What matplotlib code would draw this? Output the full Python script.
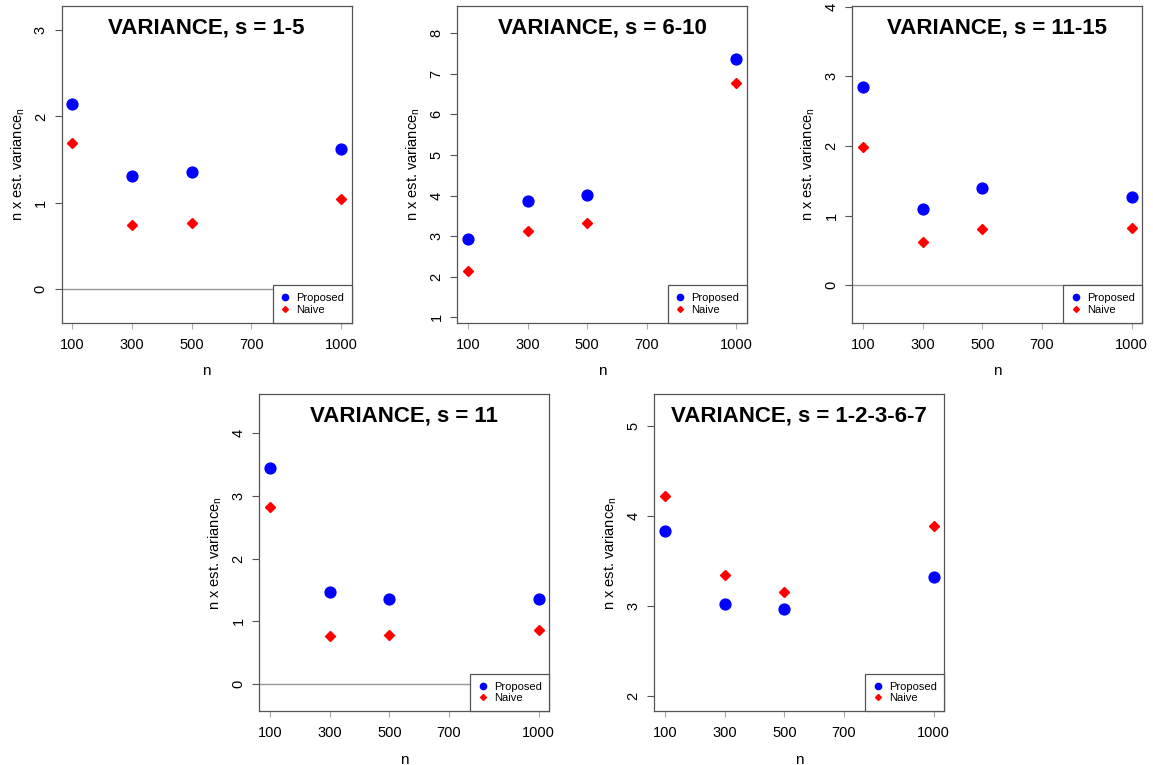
import matplotlib
matplotlib.use("Agg")
import matplotlib.pyplot as plt
from matplotlib.lines import Line2D

plt.rcParams['font.family'] = ['Liberation Sans', 'DejaVu Sans']
plt.rcParams['mathtext.fontset'] = 'custom'
plt.rcParams['mathtext.rm'] = 'Liberation Sans'
plt.rcParams['mathtext.it'] = 'Liberation Sans'

# sample sizes
n_vals = [100, 300, 500, 1000]
x_ticks = [100, 300, 500, 700, 1000]

titles = ["VARIANCE, s = 1-5", "VARIANCE, s = 6-10", "VARIANCE, s = 11-15",
          "VARIANCE, s = 11", "VARIANCE, s = 1-2-3-6-7"]

proposed_1_5 = [2.14, 1.31, 1.36, 1.62]
naive_1_5 = [1.69, 0.74, 0.77, 1.04]
proposed_6_10 = [2.92, 3.87, 4.01, 7.37]
naive_6_10 = [2.14, 3.12, 3.33, 6.78]
proposed_11_15 = [2.84, 1.10, 1.40, 1.26]
naive_11_15 = [1.98, 0.62, 0.81, 0.82]
proposed_11 = [3.44, 1.47, 1.36, 1.36]
naive_11 = [2.82, 0.76, 0.78, 0.86]
proposed_mix = [3.83, 3.02, 2.96, 3.32]
naive_mix = [4.22, 3.34, 3.15, 3.89]

proposed_all = [proposed_1_5, proposed_6_10, proposed_11_15, proposed_11, proposed_mix]
naive_all = [naive_1_5, naive_6_10, naive_11_15, naive_11, naive_mix]

W, H = 1153, 765
# panel boxes in pixels: left, top, right, bottom
BOXES = [(61.7, 6, 351.7, 322.7), (457.3, 6, 746.7, 322.7),
         (852.3, 6, 1142.3, 322.7), (259.3, 394.3, 549.3, 711),
         (654.3, 394.3, 944.3, 711)]
YLIMS = [(-0.39, 3.28), (0.87, 8.67), (-0.54, 4.01), (-0.43, 4.62), (1.83, 5.35)]
YTICKS = [range(0, 4), range(1, 9), range(0, 5), range(0, 5), range(2, 6)]

FRAME = "#555555"

fig = plt.figure(figsize=(W / 100, H / 100), dpi=100)

for i in range(5):
    l, t, r, b = BOXES[i]
    ax = fig.add_axes([l / W, 1 - b / H, (r - l) / W, (b - t) / H])
    ax.set_xlim(64, 1036)
    ax.set_ylim(*YLIMS[i])
    ax.axhline(0, color="#999999", lw=1, zorder=1)
    ax.plot(n_vals, proposed_all[i], 'o', color="#0000FF", ms=7.8, zorder=3)
    ax.plot(n_vals, naive_all[i], 'D', color="#FF0000", ms=4.8, zorder=3)

    ax.set_xticks(x_ticks)
    ax.set_yticks(list(YTICKS[i]))
    ax.tick_params(axis='x', length=4, width=0.8, color="#aaaaaa", pad=7,
                   labelsize=10.5)
    ax.tick_params(axis='y', length=5, width=0.8, color=FRAME, pad=5,
                   labelsize=10.5, labelrotation=90)
    for lab in ax.get_yticklabels():
        lab.set_va('center')
    for sp in ax.spines.values():
        sp.set_color(FRAME)
        sp.set_linewidth(0.9)

    ax.set_xlabel("n", fontsize=11, labelpad=9)
    ax.set_ylabel(r"n x est. variance$_{\mathregular{n}}$", fontsize=10.5,
                  labelpad=5)
    ax.text(0.5, 0.93, titles[i], transform=ax.transAxes, ha='center',
            va='center', fontsize=16, fontweight='bold')

    handles = [Line2D([], [], ls='none', marker='o', color="#0000FF", ms=4.5),
               Line2D([], [], ls='none', marker='D', color="#FF0000", ms=3.0)]
    leg = ax.legend(handles, ["Proposed", "Naive"], loc='lower right',
                    borderaxespad=0, fontsize=8, fancybox=False,
                    edgecolor=FRAME, framealpha=1, handlelength=0.8,
                    handletextpad=0.6, borderpad=0.7, labelspacing=0.15)
    leg.get_frame().set_linewidth(0.9)
    leg.set_zorder(5)

fig.savefig("out.png", dpi=100)
